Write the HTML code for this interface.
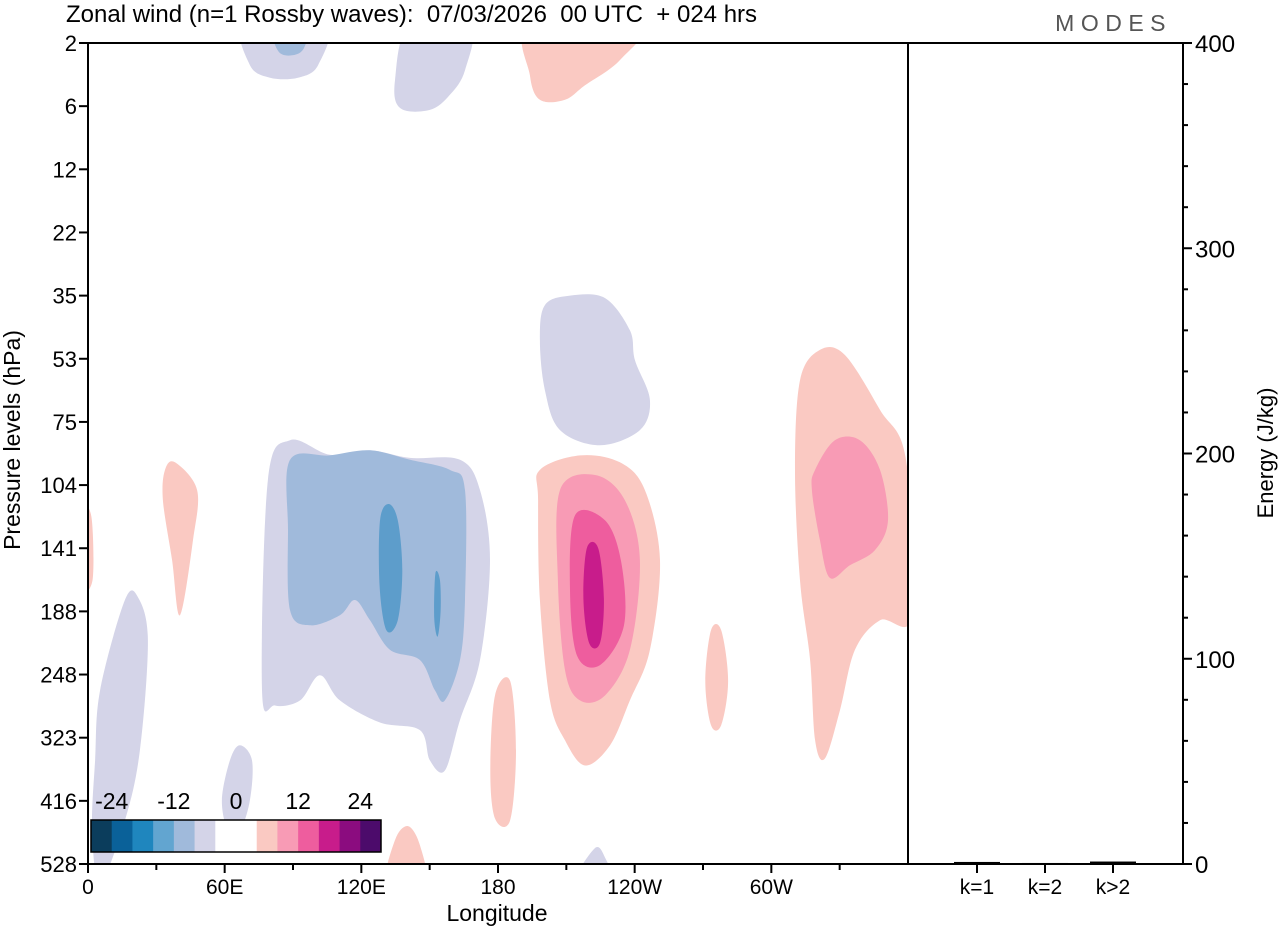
<!DOCTYPE html>
<html><head><meta charset="utf-8">
<style>
html,body{margin:0;padding:0;background:#fff;}
svg text{font-family:"Liberation Sans",Arial,sans-serif;fill:#000;white-space:pre;}
</style></head>
<body>
<svg id="chart" width="1280" height="930" viewBox="0 0 1280 930" xmlns="http://www.w3.org/2000/svg">
<defs><clipPath id="plotclip"><rect x="88" y="43" width="820" height="821"/></clipPath></defs>
<text x="66" y="22" font-size="24" xml:space="preserve">Zonal wind (n=1 Rossby waves):  07/03/2026  00 UTC  + 024 hrs</text>
<text x="1172" y="31" font-size="23" style="fill:#555;letter-spacing:6.5px" text-anchor="end">MODES</text>
<g id="field" clip-path="url(#plotclip)"></g>
<g id="axes"></g>
</svg>
<script>
// axis layout
const lonTicks=[0,60,120,180,240,300];
const lonLabels=["0","60E","120E","180","120W","60W"];
const levelLabels=["2","6","12","22","35","53","75","104","141","188","248","323","416","528"];
const energyTicks=[0,100,200,300,400];
const energyCats=["k=1","k=2","k>2"];
const energyValues=[1.0,0.5,1.2];
const cbarLevels=[-28,-24,-20,-16,-12,-8,-4,0,4,8,12,16,20,24,28];
const cbarLabels=[-24,-12,0,12,24];
const cbarColors=["#0b3d5c","#0a6199","#1f86be","#62a5d0","#a0badb","#d4d4e8","#ffffff","#ffffff","#fac9c2","#f89bb5","#ee5d9e","#c81c8b","#8b0c7f","#4c0b6b"];
// contour regions: [lon(deg), pressure-level index]
const C={lav:"#d4d4e8",blu:"#a0badb",dblu:"#5d9dcb",p1:"#fac9c2",p2:"#f89bb5",p3:"#ee5d9e",p4:"#c81c8b"};
const blobs=[
 ["lav",[[68.9,-0.3],[104,-0.3],[101,0.35],[92.2,0.55],[79.9,0.55],[71.1,0.35]]],
 ["blu",[[81,-0.3],[96,-0.3],[94.5,0.1],[88,0.2],[83,0.1]]],
 ["lav",[[141.4,-0.3],[167.7,-0.3],[165.5,0.43],[158.9,0.82],[150.1,1.06],[137,1.03],[134.8,0.59]]],
 ["p1",[[194,-0.3],[242.3,-0.3],[233.5,0.27],[218.2,0.67],[209.4,0.9],[198.4,0.9],[194,0.51]]],
 ["lav",[[200.6,4.15],[211.6,4.0],[227,4.04],[237.9,4.55],[240.1,5.02],[246.7,5.65],[242.3,6.13],[224.8,6.37],[207.2,6.13],[200.6,5.5],[198.4,4.7]]],
 ["lav",[[76.4,10.25],[79,6.92],[88.7,6.29],[106.2,6.52],[123.8,6.45],[141.4,6.57],[163.3,6.6],[172.1,7.08],[176.5,8.19],[172.1,9.77],[163.3,10.72],[156.7,11.52],[150.1,11.36],[145.7,10.88],[128.2,10.76],[110.6,10.41],[101.8,10.01],[93.1,10.41],[82.1,10.49]]],
 ["blu",[[88.7,6.6],[106.2,6.53],[123.8,6.45],[141.4,6.6],[158.9,6.76],[165.5,7.08],[165.5,8.82],[163.3,9.77],[156.7,10.41],[152.3,10.25],[145.7,9.77],[132.6,9.61],[123.8,9.14],[117.2,8.82],[110.6,9.06],[97.5,9.22],[88.7,8.98],[87.8,7.71]]],
 ["dblu",[[128.2,7.56],[132,7.3],[136,7.56],[138,8.35],[136,9.14],[131,9.3],[128,8.6]]],
 ["dblu",[[152.5,8.4],[154.5,8.5],[154.8,9.0],[153.5,9.4],[152,9.1]]],
 ["p1",[[198.4,6.76],[216,6.53],[233.5,6.64],[244.5,7.08],[251.1,8.19],[246.7,9.61],[237.9,10.41],[229.2,11.12],[218.2,11.44],[209.4,11.04],[202.8,10.41],[198.4,8.82],[197.6,7.24]]],
 ["p2",[[207.2,7.08],[222.6,6.84],[235.7,7.24],[242.3,8.19],[237.9,9.61],[227,10.33],[216,10.41],[209.4,9.93],[206.3,8.51]]],
 ["p3",[[213.8,7.48],[227,7.56],[234,8.2],[235.3,9.22],[224.8,9.85],[214.7,9.7],[211.6,8.66]]],
 ["p4",[[219,8.0],[224,8.0],[226.5,8.8],[224.8,9.5],[220,9.5],[217.5,8.8]]],
 ["p1",[[321.3,4.86],[332.3,4.94],[347.7,5.81],[359.1,6.6],[362,9.06],[347.7,9.14],[336.7,9.61],[330.1,10.57],[323.5,11.33],[319.2,11.04],[317,9.77],[312.6,8.51],[310.4,6.76],[312.6,5.34]]],
 ["p2",[[319.2,6.76],[327.9,6.29],[338.9,6.29],[347.7,6.76],[351.2,7.56],[345.5,8.03],[334.5,8.27],[325.7,8.47],[321.3,7.87],[317.8,7.08]]],
 ["p1",[[33.8,6.76],[38.2,6.64],[47.9,7.08],[46.1,7.87],[40.4,9.06],[36.9,8.19],[32.9,7.24]]],
 ["p1",[[-3,7.4],[1.5,7.5],[2,8.5],[-3,8.6]]],
 ["p1",[[273.5,9.3],[278,9.3],[281,10.1],[278,10.8],[273.5,10.8],[271,10.1]]],
 ["p1",[[178.7,10.33],[185.3,10.1],[187.9,11.2],[185.3,12.31],[178.7,12.28],[176.6,11.52]]],
 ["p1",[[134.8,12.62],[140.5,12.4],[145.7,12.7],[147.9,13.3],[131.3,13.3]]],
 ["lav",[[5.3,10.25],[16.2,8.82],[22,8.78],[26.3,9.46],[22.8,11.2],[16.2,12.31],[5.3,13.3],[1.8,12.47],[3.1,11.36]]],
 ["lav",[[62.3,11.36],[66.7,11.12],[72,11.36],[71.1,11.99],[66.7,12.47],[61.5,12.47],[58.8,11.99]]],
 ["lav",[[214,13.3],[222.5,12.75],[227,12.9],[230,13.3]]]
];
const NS="http://www.w3.org/2000/svg";
const X0=88,X1=908,Y0=43,Y1=864;
const xLon=l=>X0+(l/360)*(X1-X0);
const yLev=i=>Y0+i*(Y1-Y0)/(levelLabels.length-1);
const EX0=908,EX1=1183;
const yE=v=>Y1-(v/400)*(Y1-Y0);
function mk(tag,attrs,parent){const e=document.createElementNS(NS,tag);for(const k in attrs)e.setAttribute(k,attrs[k]);parent.appendChild(e);return e;}
function smooth(pts){const n=pts.length;let d=`M${pts[0][0]},${pts[0][1]}`;
 for(let i=0;i<n;i++){const p0=pts[(i-1+n)%n],p1=pts[i],p2=pts[(i+1)%n],p3=pts[(i+2)%n];
  const c1=[p1[0]+(p2[0]-p0[0])/6,p1[1]+(p2[1]-p0[1])/6],c2=[p2[0]-(p3[0]-p1[0])/6,p2[1]-(p3[1]-p1[1])/6];
  d+=` C${c1[0].toFixed(1)},${c1[1].toFixed(1)} ${c2[0].toFixed(1)},${c2[1].toFixed(1)} ${p2[0].toFixed(1)},${p2[1].toFixed(1)}`;}
 return d+"Z";}
const field=document.getElementById('field');
blobs.forEach((b,i)=>{const pts=b[1].map(p=>[xLon(p[0]),yLev(p[1])]);
 const el=mk('path',{d:smooth(pts),fill:C[b[0]]},field);
 
 });
const ax=document.getElementById('axes');
let fr=mk('rect',{x:X0,y:Y0,width:X1-X0,height:Y1-Y0,fill:'none',stroke:'#000','stroke-width':2},ax);

let ef=mk('rect',{x:EX0,y:Y0,width:EX1-EX0,height:Y1-Y0,fill:'none',stroke:'#000','stroke-width':2},ax);

levelLabels.forEach((lab,i)=>{const y=yLev(i);
 mk('line',{x1:X0-9,x2:X0,y1:y,y2:y,stroke:'#000','stroke-width':2},ax);
 const t=mk('text',{x:X0-11,y:y+8,'font-size':22,'text-anchor':'end'},ax);t.textContent=lab;
 });
for(let l=0;l<=330;l+=30){const x=xLon(l);mk('line',{x1:x,x2:x,y1:Y1,y2:Y1+(l%60===0?9:6),stroke:'#000','stroke-width':2},ax);}
lonTicks.forEach((l,i)=>{const t=mk('text',{x:xLon(l),y:894,'font-size':21,'text-anchor':'middle'},ax);t.textContent=lonLabels[i];
 });
let xt=mk('text',{x:497,y:921,'font-size':23,'text-anchor':'middle'},ax);xt.textContent='Longitude';

let yt=mk('text',{x:0,y:0,'font-size':23,'text-anchor':'middle',transform:'translate(20,440) rotate(-90)'},ax);yt.textContent='Pressure levels (hPa)';

for(let v=0;v<=400;v+=20){const y=yE(v);mk('line',{x1:EX1,x2:EX1+(v%100===0?9:5),y1:y,y2:y,stroke:'#000','stroke-width':2},ax);}
energyTicks.forEach(v=>{const t=mk('text',{x:EX1+12,y:yE(v)+9,'font-size':24},ax);t.textContent=v;
 });
let et=mk('text',{x:0,y:0,'font-size':22,'text-anchor':'middle',transform:'translate(1273,453) rotate(-90)'},ax);et.textContent='Energy (J/kg)';

const catX=i=>977+i*68;
energyCats.forEach((c,i)=>{const x=catX(i);
 mk('line',{x1:x,x2:x,y1:Y1,y2:Y1+9,stroke:'#000','stroke-width':2},ax);
 const b=mk('rect',{x:x-23,y:yE(energyValues[i]),width:46,height:Y1-yE(energyValues[i])+1,fill:'#000'},ax);
 
 const t=mk('text',{x:x,y:894,'font-size':21,'text-anchor':'middle'},ax);t.textContent=c;
 });
const cb=mk('g',{},ax);
const cbx=i=>91+i*(381-91)/cbarColors.length;
cbarColors.forEach((c,i)=>{const r=mk('rect',{x:cbx(i),y:820,width:cbx(i+1)-cbx(i)+0.5,height:32,fill:c},cb);
 });
mk('rect',{x:91,y:820,width:290,height:32,fill:'none',stroke:'#000','stroke-width':1.5},cb);
cbarLabels.forEach(v=>{const i=cbarLevels.indexOf(v);const t=mk('text',{x:cbx(i),y:809,'font-size':23,'text-anchor':'middle'},cb);t.textContent=v;
 });
</script>
</body></html>
